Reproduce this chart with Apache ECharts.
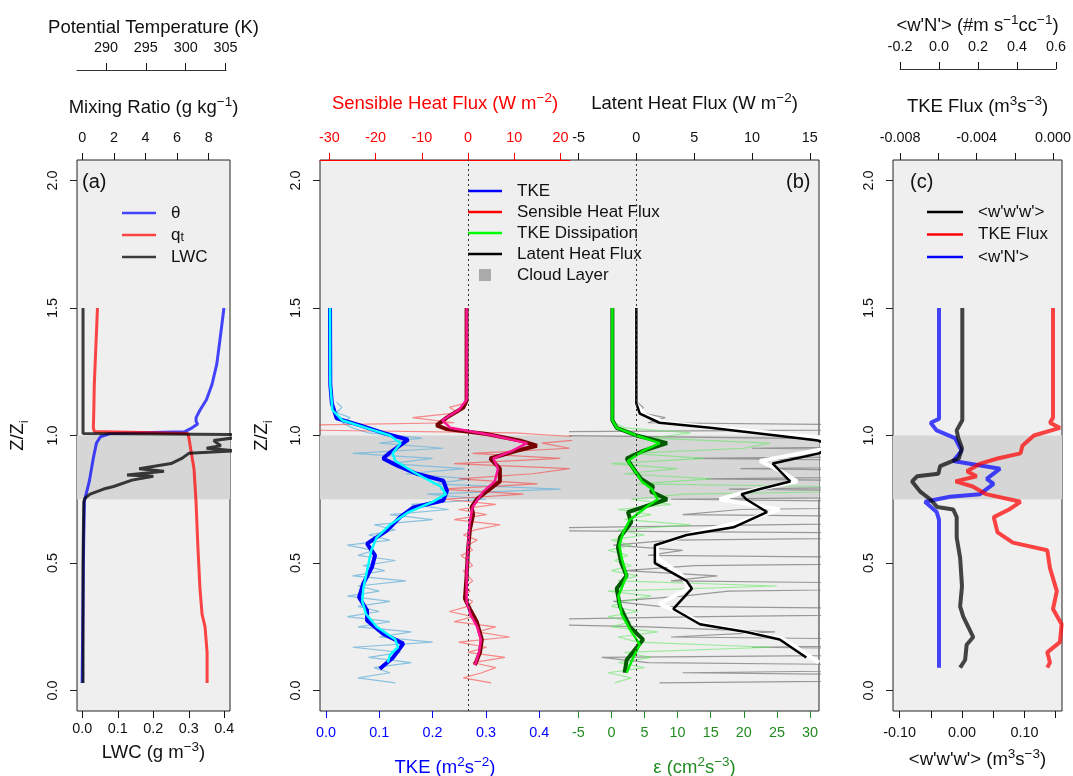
<!DOCTYPE html>
<html>
<head>
<meta charset="utf-8">
<title>Boundary layer profiles</title>
<script src="https://cdn.jsdelivr.net/npm/echarts@6/dist/echarts.min.js"></script>
<style>
  html, body { margin: 0; padding: 0; background: #fff; }
  #chart { width: 1073px; height: 776px; }
</style>
</head>
<body>
<div id="chart"></div>
<script>
const FONT = "Liberation Sans, Arial, sans-serif";

// tick positions
const zTicks = [0, 0.5, 1, 1.5, 2];
const lwcTicks = [0, 0.1, 0.2, 0.3, 0.4];
const qtTicks = [0, 2, 4, 6, 8];
const thetaTicks = [290, 295, 300, 305];
const tkeTicks = [0, 0.1, 0.2, 0.3, 0.4];
const shTicks = [-30, -20, -10, 0, 10, 20];
const epTicks = [-5, 0, 5, 10, 15, 20, 25, 30];
const lhTicks = [-5, 0, 5, 10, 15];
const wwwTicks = [-0.1, -0.05, 0, 0.05, 0.1, 0.15];
const wwwLabels = [-0.1, 0, 0.1];
const tfTicks = [-0.008, -0.006, -0.004, -0.002, 0];
const tfLabels = [-0.008, -0.004, 0];
const wnTicks = [-0.2, 0, 0.2, 0.4, 0.6];

// (a) profiles
const thetaZ = [0.03, 0.3, 0.59, 0.745, 0.82, 0.91, 0.97, 0.995, 1.008, 1.015, 1.03, 1.045, 1.055, 1.07, 1.1, 1.14, 1.2, 1.28, 1.4, 1.5];
const thetaK = [287.0, 287.1, 287.2, 287.3, 287.9, 288.4, 288.8, 289.3, 290.5, 299.9, 300.8, 301.5, 301.3, 301.3, 301.8, 302.6, 303.3, 303.9, 304.4, 304.8];
const qtZ = [0.03, 0.15, 0.25, 0.3, 0.4, 0.56, 0.74, 0.87, 0.94, 0.99, 1.008, 1.016, 1.03, 1.1, 1.2, 1.35, 1.5];
const qt = [7.9, 7.9, 7.77, 7.58, 7.45, 7.32, 7.2, 7.07, 6.88, 6.75, 6.69, 0.76, 0.7, 0.73, 0.76, 0.86, 0.96];
const lwcZ = [0.03, 0.5, 0.74, 0.755, 0.77, 0.79, 0.8, 0.825, 0.84, 0.845, 0.86, 0.87, 0.89, 0.91, 0.93, 0.94, 0.95, 0.96, 0.98, 0.995, 1.002, 1.008, 1.1, 1.5];
const lwc = [0.002, 0.002, 0.004, 0.008, 0.022, 0.06, 0.088, 0.14, 0.2, 0.126, 0.23, 0.16, 0.25, 0.28, 0.3, 0.43, 0.35, 0.39, 0.37, 0.45, 0.6, 0.002, 0.002, 0.002];

// (b) raw profiles, shared heights
const zRaw = [0.03, 0.05, 0.07, 0.09, 0.11, 0.13, 0.15, 0.17, 0.19, 0.21, 0.23, 0.25, 0.27, 0.29, 0.31, 0.33, 0.35, 0.37, 0.39, 0.41,
  0.43, 0.45, 0.47, 0.49, 0.51, 0.53, 0.55, 0.57, 0.59, 0.61, 0.63, 0.65, 0.67, 0.69, 0.71, 0.73, 0.75, 0.77, 0.79, 0.81,
  0.83, 0.85, 0.87, 0.89, 0.91, 0.93, 0.95, 0.97, 0.99, 1.01, 1.03, 1.05, 1.07, 1.09, 1.11, 1.13];
const tkeRaw = [0.13, 0.06, 0.12, 0.09, 0.16, 0.08, 0.14, 0.05, 0.20, 0.10, 0.16, 0.06, 0.12, 0.04, 0.10, 0.06, 0.12, 0.04, 0.10, 0.06,
  0.15, 0.05, 0.11, 0.07, 0.13, 0.06, 0.09, 0.04, 0.12, 0.08, 0.13, 0.09, 0.20, 0.12, 0.23, 0.16, 0.30, 0.19, 0.44, 0.20,
  0.27, 0.15, 0.26, 0.12, 0.20, 0.05, 0.22, 0.10, 0.18, 0.08, 0.05, 0.03, 0.045, 0.02, 0.03, 0.02];
const shRaw = [5, -1, 3, 6, 1, 8, 0, 4, -2, 9, 2, 6, -3, 1, -4, 0, 1, -1, 0.5, -0.5,
  1, 0, -1, 1, 0, -1.5, 1, 0, 2, -1, 1.5, 7, -3, 4, -2, 6, -5, 12, -6, 15,
  -2, 14, 22, -3, 20, 1, 22, 16, 28, 10, -70, -3, -12, -2, -4, 0];
const epRaw = [0.5, 3, -0.5, 5, 1, 6, 2, 24, 4, 1, 7, 0, 3, -0.5, 4, 0, 2, 6, -0.5, 25,
  1, 4, 0, 3, 0.5, 2.5, -0.5, 3, 0, 5, 1, 12, 2, 6, 1, 9, 3, 11, 60, 4,
  15, 2, 10, 0, 14, 3, 20, 24, 6, 12, 2, 0.5, 0, 0.2, 0, 0.1];
const lhRaw = [2, 50, 4, 45, 1, -3, 50, 10, 48, 3, 12, 1, -20, 6, 50, 2, -2, 4, 8, 45,
  3, 7, -1, 5, 50, 1, 4, -2, 3, 48, -20, 11, 50, 4, 9, 46, 3, 50, 8, 45,
  6, 50, 9, 48, 5, 50, 10, 45, 12, -25, 50, 1, 2.5, 0.3, 0.6, 0.1];

// (b) smoothed profiles
const tkeZ = [0.086, 0.13, 0.184, 0.223, 0.275, 0.314, 0.366, 0.42, 0.483, 0.53, 0.576, 0.627, 0.68, 0.718, 0.745, 0.784, 0.823, 0.85, 0.883, 0.91, 0.933, 0.961, 0.984, 1.01, 1.04, 1.067, 1.125, 1.2, 1.5];
const tke = [0.101, 0.126, 0.145, 0.107, 0.077, 0.077, 0.062, 0.07, 0.086, 0.092, 0.077, 0.114, 0.139, 0.164, 0.22, 0.227, 0.22, 0.17, 0.133, 0.107, 0.12, 0.139, 0.154, 0.107, 0.064, 0.02, 0.011, 0.008, 0.0075];
const tkeSmZ = [0.11, 0.14, 0.17, 0.2, 0.25, 0.3, 0.35, 0.4, 0.45, 0.5, 0.55, 0.6, 0.65, 0.7, 0.74, 0.77, 0.8, 0.85, 0.9, 0.93, 0.97, 1.0, 1.03, 1.06, 1.1, 1.2, 1.5];
const tkeSm = [0.116, 0.12, 0.135, 0.13, 0.095, 0.075, 0.068, 0.07, 0.075, 0.08, 0.085, 0.095, 0.12, 0.155, 0.2, 0.225, 0.215, 0.17, 0.13, 0.125, 0.14, 0.12, 0.075, 0.03, 0.012, 0.008, 0.0075];
const shZ = [0.1, 0.15, 0.2, 0.27, 0.32, 0.36, 0.45, 0.55, 0.63, 0.69, 0.72, 0.75, 0.78, 0.82, 0.87, 0.91, 0.94, 0.96, 0.98, 1.006, 1.025, 1.04, 1.07, 1.11, 1.137, 1.5];
const sh = [1.5, 2.6, 3.0, 1.9, 0.4, -0.65, -0.3, 0, 0.4, 1.1, 0.8, 1.9, 4.0, 6.9, 6.9, 4.8, 10.5, 14.9, 11.3, 4.0, -4.6, -6.8, -4.6, -1.0, -0.3, -0.3];
const shSmZ = [0.1, 0.15, 0.2, 0.25, 0.3, 0.35, 0.45, 0.55, 0.65, 0.72, 0.78, 0.82, 0.87, 0.91, 0.94, 0.97, 1.0, 1.03, 1.06, 1.1, 1.14, 1.5];
const shSm = [1.5, 2.4, 2.8, 2.0, 0.5, -0.3, -0.3, 0, 0.3, 1.0, 3.3, 5.8, 6.5, 5.5, 9.5, 12.8, 5.5, -3.8, -5.6, -2.0, -0.3, -0.3];
const epZ = [0.07, 0.12, 0.2, 0.25, 0.33, 0.4, 0.45, 0.5, 0.56, 0.6, 0.66, 0.7, 0.75, 0.78, 0.8, 0.83, 0.86, 0.91, 0.94, 0.97, 1.0, 1.03, 1.06, 1.5];
const ep = [2.0, 2.3, 4.8, 2.8, 1.3, 0.8, 2.3, 1.5, 1.0, 1.3, 3.0, 2.5, 8.4, 6.0, 6.3, 4.5, 3.6, 2.3, 4.8, 8.4, 3.8, 0.8, 0.15, 0.15];
const epSmZ = [0.07, 0.13, 0.18, 0.24, 0.3, 0.37, 0.45, 0.52, 0.57, 0.62, 0.67, 0.72, 0.75, 0.79, 0.82, 0.86, 0.9, 0.94, 0.97, 1.0, 1.03, 1.06, 1.5];
const epSm = [2.3, 3.3, 4.3, 2.8, 1.55, 1.05, 2.3, 1.55, 1.2, 1.8, 2.8, 5.3, 7.0, 6.1, 4.6, 3.6, 2.5, 4.8, 7.3, 3.8, 0.8, 0.15, 0.15];
const lhZ = [0.13, 0.2, 0.23, 0.26, 0.32, 0.4, 0.43, 0.5, 0.57, 0.61, 0.64, 0.7, 0.75, 0.77, 0.79, 0.82, 0.89, 0.93, 0.96, 0.98, 1.0, 1.03, 1.05, 1.086, 1.125, 1.5];
const lh = [14.7, 12.4, 9.5, 5.5, 3.2, 4.8, 4.35, 1.6, 1.6, 4.35, 8.4, 11.3, 9.5, 9.1, 10.7, 13.3, 11.8, 15.8, 17, 15.7, 12.1, 6.4, 2.0, 0.3, 0.0, 0.0];
const lhSmZ = [0.11, 0.2, 0.26, 0.34, 0.4, 0.45, 0.52, 0.57, 0.62, 0.66, 0.71, 0.75, 0.78, 0.82, 0.86, 0.9, 0.95, 0.99, 1.02, 1.05, 1.08, 1.12, 1.5];
const lhSm = [15.8, 12.8, 6.0, 2.0, 4.5, 4.0, 1.8, 1.8, 5.0, 9.0, 12.4, 7.2, 9.5, 13.9, 12.5, 10.7, 16.5, 16.5, 9.5, 2.5, 0.8, 0.0, 0.0];

// (c) flux profiles
const wwwZ = [0.09, 0.12, 0.18, 0.21, 0.29, 0.33, 0.41, 0.52, 0.6, 0.68, 0.71, 0.72, 0.75, 0.78, 0.82, 0.84, 0.85, 0.88, 0.91, 0.95, 0.99, 1.02, 1.06, 1.5];
const www = [-0.003, 0.005, 0.0075, 0.018, 0.002, -0.003, 0, -0.003, -0.0085, -0.0085, -0.014, -0.04, -0.051, -0.067, -0.08, -0.072, -0.038, -0.035, -0.005, 0, -0.006, -0.0085, 0.0005, 0.0005];
const wnZ = [0.09, 0.67, 0.7, 0.74, 0.76, 0.77, 0.81, 0.83, 0.87, 0.9, 0.94, 0.99, 1.02, 1.05, 1.065, 1.5];
const wn = [0, 0, -0.012, -0.072, 0.056, 0.21, 0.28, 0.245, 0.313, 0.073, 0.116, 0.082, -0.012, -0.043, 0, 0];
const tfZ = [0.09, 0.11, 0.15, 0.19, 0.26, 0.32, 0.39, 0.48, 0.55, 0.58, 0.62, 0.68, 0.71, 0.74, 0.77, 0.8, 0.82, 0.84, 0.86, 0.89, 0.91, 0.93, 0.96, 1.0, 1.03, 1.05, 1.07, 1.5];
const tf = [-0.0003, -0.00016, -0.0003, 0.00036, 0.00045, 0, 0.0002, -0.00016, -0.0003, -0.0021, -0.0029, -0.0031, -0.0023, -0.0017, -0.0035, -0.0042, -0.0051, -0.004, -0.0045, -0.0038, -0.0029, -0.0017, -0.0016, -0.001, 0.00036, -0.00016, 0, 0];

const cloudBase = 0.75;
const cloudTop = 1.0;

const pts = (vals, zs) => vals.map((v, i) => [v, zs[i]]);
const fixed = (n) => (v) => v.toFixed(n);
const whole = (v) => String(Math.round(v));

const rich = (color) => ({
  n: { fontSize: 18.5, lineHeight: 26, verticalAlign: "middle", color, fontFamily: FONT },
  s: { fontSize: 13.5, lineHeight: 14, verticalAlign: "top", color, fontFamily: FONT },
  b: { fontSize: 13.5, lineHeight: 14, verticalAlign: "bottom", color, fontFamily: FONT },
});

const xAx = (o) => ({
  type: "value",
  gridIndex: o.grid,
  position: o.pos,
  offset: o.offset || 0,
  min: o.min,
  max: o.max,
  show: o.show !== false,
  name: o.name || "",
  nameLocation: "middle",
  nameGap: o.nameGap || 0,
  nameMoveOverlap: false,
  nameTextStyle: { color: o.color, fontFamily: FONT, rich: rich(o.color) },
  axisLine: { show: !!o.line, onZero: false, lineStyle: { color: o.color, width: 1 } },
  axisTick: { show: !!o.ticks, customValues: o.ticks, length: 7, lineStyle: { color: o.color, width: 1 } },
  axisLabel: {
    show: !!o.ticks, customValues: o.labels || o.ticks, formatter: o.fmt,
    margin: o.margin || 15, color: o.color, fontSize: 14.4, fontFamily: FONT,
  },
  splitLine: { show: false },
});

const yAx = (grid, show, name, nameGap) => ({
  type: "value",
  gridIndex: grid,
  min: -0.08,
  max: 2.08,
  show,
  name: name || "",
  nameLocation: "middle",
  nameGap: nameGap || 0,
  nameMoveOverlap: false,
  nameTextStyle: { color: "#111", fontFamily: FONT, rich: rich("#111") },
  axisLine: { show: false, onZero: false },
  axisTick: { show: true, customValues: zTicks, length: 7, lineStyle: { color: "#222" } },
  axisLabel: { customValues: zTicks, formatter: fixed(1), rotate: 90, margin: 17, color: "#111", fontSize: 14.4, fontFamily: FONT },
  splitLine: { show: false },
});

const line = (name, xi, yi, data, color, width, extra) => Object.assign({
  type: "line", name, xAxisIndex: xi, yAxisIndex: yi, data,
  symbol: "none", silent: true, animation: false,
  lineStyle: { color, width }, itemStyle: { color },
  emphasis: { disabled: true },
}, extra || {});

const band = { markArea: { silent: true, itemStyle: { color: "#d6d6d6" }, data: [[{ yAxis: cloudBase }, { yAxis: cloudTop }]] } };
const zeroLine = {
  markLine: {
    silent: true, symbol: "none", label: { show: false },
    lineStyle: { color: "#333", width: 1, type: [2, 3] },
    data: [{ xAxis: 0 }],
  },
};

const box = { show: true, backgroundColor: "#efefef", borderColor: "#222", borderWidth: 1 };
const gridAt = (left, top, width, height, framed) =>
  Object.assign({ left, top, width, height, containLabel: false, outerBoundsMode: "none" }, framed ? box : {});
const bar = (w) => "path://M0 0H" + w + "V2.6H0Z";
const legendText = { fontSize: 17, lineHeight: 18, color: "#111", padding: [0, 0, 0, 10] };

const option = {
  animation: false,
  backgroundColor: "#ffffff",
  textStyle: { fontFamily: FONT },
  title: [
    { text: "(a)", left: 82, top: 170, padding: 0, textStyle: { fontSize: 20, fontWeight: "normal", color: "#111", lineHeight: 24 } },
    { text: "(b)", left: 786, top: 170, padding: 0, textStyle: { fontSize: 20, fontWeight: "normal", color: "#111", lineHeight: 24 } },
    { text: "(c)", left: 910, top: 170, padding: 0, textStyle: { fontSize: 20, fontWeight: "normal", color: "#111", lineHeight: 24 } },
  ],
  grid: [
    gridAt(77, 160, 153, 551, true),
    gridAt(320, 160, 499, 551, true),
    gridAt(320, 160, 250, 551, false),
    gridAt(570, 160, 249, 551, false),
    gridAt(893, 160, 169, 551, true),
    gridAt(77, 70, 149, 20, false),
    gridAt(900, 69, 156, 20, false),
  ],
  xAxis: [
    xAx({ grid: 0, pos: "bottom", min: -0.015, max: 0.416, ticks: lwcTicks, fmt: fixed(1), color: "#111", margin: 11,
      name: "{n|LWC (g m}{s|−3}{n|)}", nameGap: 29 }),
    xAx({ grid: 0, pos: "top", min: -0.335, max: 9.35, ticks: qtTicks, fmt: whole, color: "#111",
      name: "{n|Mixing Ratio (g kg}{s|−1}{n|)}", nameGap: 39 }),
    xAx({ grid: 0, pos: "top", offset: 90, min: 286.36, max: 305.56, ticks: thetaTicks, fmt: whole, color: "#111",
      name: "{n|Potential Temperature (K)}", nameGap: 29 }),
    xAx({ grid: 1, pos: "bottom", min: 0, max: 1, show: false }),
    xAx({ grid: 2, pos: "bottom", min: -0.0113, max: 0.4578, ticks: tkeTicks, fmt: fixed(1), color: "#0000ff",
      name: "{n|TKE (m}{s|2}{n|s}{s|−2}{n|)}", nameGap: 44 }),
    xAx({ grid: 2, pos: "top", min: -32.03, max: 22.08, ticks: shTicks, fmt: whole, color: "#ff0000", line: true,
      name: "{n|Sensible Heat Flux (W m}{s|−2}{n|)}", nameGap: 43 }),
    xAx({ grid: 3, pos: "bottom", min: -6.25, max: 31.36, ticks: epTicks, fmt: whole, color: "#228b22",
      name: "{n|ε (cm}{s|2}{n|s}{s|−3}{n|)}", nameGap: 44 }),
    xAx({ grid: 3, pos: "top", min: -5.74, max: 15.8, ticks: lhTicks, fmt: whole, color: "#111",
      name: "{n|Latent Heat Flux (W m}{s|−2}{n|)}", nameGap: 43 }),
    xAx({ grid: 4, pos: "bottom", min: -0.1106, max: 0.1603, ticks: wwwTicks, labels: wwwLabels, fmt: fixed(2), color: "#111",
      name: "{n|<w'w'w'> (m}{s|3}{n|s}{s|−3}{n|)}", nameGap: 36 }),
    xAx({ grid: 4, pos: "top", min: -0.00837, max: 0.00047, ticks: tfTicks, labels: tfLabels, fmt: fixed(3), color: "#111",
      name: "{n|TKE Flux (m}{s|3}{n|s}{s|−3}{n|)}", nameGap: 40 }),
    xAx({ grid: 4, pos: "top", offset: 91, min: -0.236, max: 0.631, ticks: wnTicks, fmt: fixed(1), color: "#111",
      name: "{n|<w'N'> (#m s}{s|−1}{n|cc}{s|−1}{n|)}", nameGap: 30 }),
    xAx({ grid: 5, pos: "top", min: 286.36, max: 305, line: true, color: "#333" }),
    xAx({ grid: 6, pos: "top", min: -0.2, max: 0.6, line: true, color: "#333" }),
  ],
  yAxis: [
    yAx(0, true, "{n|Z/Z}{b|i}", 46),
    yAx(1, true, "{n|Z/Z}{b|i}", 45),
    yAx(2, false),
    yAx(3, false),
    yAx(4, true),
    { type: "value", gridIndex: 5, show: false, min: 0, max: 1 },
    { type: "value", gridIndex: 6, show: false, min: 0, max: 1 },
  ],
  legend: [
    {
      data: [
        { name: "θ", icon: bar(34) },
        { name: "qt", icon: bar(34) },
        { name: "LWC", icon: bar(34) },
      ],
      left: 122, top: 204, orient: "vertical", padding: 0,
      itemWidth: 34, itemHeight: 12, itemGap: 4,
      formatter: (n) => (n === "qt" ? "{n|q}{b|t}" : n),
      textStyle: Object.assign({}, legendText, {
        rich: { n: { fontSize: 17, lineHeight: 18, color: "#111" }, b: { fontSize: 12.5, lineHeight: 10, verticalAlign: "bottom", color: "#111" } },
      }),
    },
    {
      data: [
        { name: "TKE", icon: bar(34), itemStyle: { color: "#0000ff" } },
        { name: "Sensible Heat Flux", icon: bar(34), itemStyle: { color: "#ff0000" } },
        { name: "TKE Dissipation", icon: bar(34), itemStyle: { color: "#00ff00" } },
        { name: "Latent Heat Flux", icon: bar(34), itemStyle: { color: "#000000" } },
        { name: "Cloud Layer", icon: "path://M0 0H10V10H0Z", itemStyle: { color: "#aaaaaa" } },
      ],
      left: 468, top: 182, orient: "vertical", padding: 0,
      itemWidth: 34, itemHeight: 12, itemGap: 3,
      textStyle: legendText,
    },
    {
      data: [
        { name: "<w'w'w'>", icon: bar(36), itemStyle: { color: "#000000" } },
        { name: "TKE Flux", icon: bar(36), itemStyle: { color: "#ff0000" } },
        { name: "<w'N'>", icon: bar(36), itemStyle: { color: "#0000ff" } },
      ],
      left: 927, top: 203, orient: "vertical", padding: 0,
      itemWidth: 36, itemHeight: 12, itemGap: 4.5,
      textStyle: legendText,
    },
  ],
  series: [
    // (a)
    line("θ", 2, 0, pts(thetaK, thetaZ), "rgba(0,0,255,0.72)", 3, band),
    line("qt", 1, 0, pts(qt, qtZ), "rgba(255,0,0,0.72)", 3),
    line("LWC", 0, 0, pts(lwc, lwcZ), "rgba(0,0,0,0.75)", 3),
    // (b)
    line("Cloud Layer", 3, 1, [], "#aaaaaa", 1),
    line("TKE raw", 4, 2, pts(tkeRaw, zRaw), "rgba(120,185,220,0.85)", 1.2, band),
    line("Sensible raw", 5, 2, pts(shRaw, zRaw), "rgba(255,50,50,0.55)", 1.2, zeroLine),
    line("TKE", 4, 2, pts(tke, tkeZ), "#0000ff", 4),
    line("TKE smooth", 4, 2, pts(tkeSm, tkeSmZ), "#00ffff", 2.5),
    line("Sensible Heat Flux", 5, 2, pts(sh, shZ), "#760000", 4),
    line("Sensible smooth", 5, 2, pts(shSm, shSmZ), "#ff1493", 2.5),
    line("Latent raw", 7, 3, pts(lhRaw, zRaw), "rgba(130,130,130,0.8)", 1.2, Object.assign({}, band, zeroLine)),
    line("Dissipation raw", 6, 3, pts(epRaw, zRaw), "rgba(100,230,100,0.6)", 1.2),
    line("Latent smooth", 7, 3, pts(lhSm, lhSmZ), "#ffffff", 4),
    line("Latent Heat Flux", 7, 3, pts(lh, lhZ), "#000000", 2.5),
    line("TKE Dissipation", 6, 3, pts(ep, epZ), "#005a00", 4),
    line("Dissipation smooth", 6, 3, pts(epSm, epSmZ), "#00ee00", 2.5),
    // (c)
    line("<w'N'>", 10, 4, pts(wn, wnZ), "rgba(0,0,255,0.72)", 4, band),
    line("TKE Flux", 9, 4, pts(tf, tfZ), "rgba(255,0,0,0.72)", 4),
    line("<w'w'w'>", 8, 4, pts(www, wwwZ), "rgba(0,0,0,0.72)", 4),
  ],
};

const chart = echarts.init(document.getElementById("chart"), null, { renderer: "canvas" });
chart.setOption(option);
window.addEventListener("resize", () => chart.resize());
</script>
</body>
</html>
